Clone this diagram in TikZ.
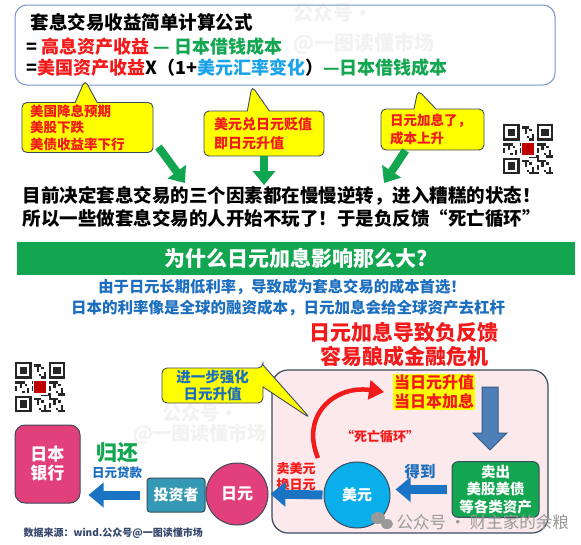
\documentclass[tikz,border=0pt]{standalone}
\usepackage{fontspec}
\setmainfont{Noto Sans CJK SC}
\usepackage{xcolor}
\usepackage{tikz}
\usetikzlibrary{arrows.meta, shapes.callouts, positioning}

\definecolor{hlred}{HTML}{F21A1A}
\definecolor{hlgreen}{HTML}{12A650}
\definecolor{hlcyan}{HTML}{1AA3E8}
\definecolor{txtblue}{HTML}{1C6EBF}
\definecolor{boxyellow}{HTML}{FFFF00}
\definecolor{boxblue}{HTML}{7B95C9}
\definecolor{jpred}{HTML}{E2407A}
\definecolor{usdcyan}{HTML}{0AAEEA}
\definecolor{invteal}{HTML}{3598B4}
\definecolor{pinkbg}{HTML}{FCE9EC}
\definecolor{arrblue}{HTML}{1B73C3}
\definecolor{steel}{HTML}{4F7FB8}
\definecolor{edge}{HTML}{3D4A5C}
\definecolor{srcblue}{HTML}{34466B}

\newcommand{\fsz}[2]{\fontsize{#1}{#2}\selectfont\bfseries}

\begin{document}
\begin{tikzpicture}[x=1pt,y=-1pt,
  callbox/.style={rectangle callout, draw=edge, fill=boxyellow, line width=0.9pt,
    rounded corners=5pt, callout pointer width=22pt, text=hlred, align=left,
    inner xsep=8pt, inner ysep=2pt},
  greenarr/.style={draw=hlgreen, line width=8pt, -{Triangle[width=22pt,length=14pt]}},
  flowarr/.style={draw=arrblue, line width=9pt, -{Triangle[width=24pt,length=15pt]}},
  tilebox/.style={draw=edge, line width=1pt, text=white}]

  \useasboundingbox (0,0) rectangle (581,544);
  \fill[white] (0,0) rectangle (581,544);

  % --- WATERMARKS ---
  \node (wmtop) [font=\fsz{20}{30}, text=black!5, align=left, anchor=north west] at (290,0) {公众号·\\@一图读懂市场};
  \node (wmbot) [font=\fsz{19}{20}, text=black!5, align=center] at (200,424) {公众号·\\@一图读懂市场};

  % --- QR CODES ---
  \foreach \qx/\qy in {503/124, 15/362} {
    \foreach \i in {0,...,20} { \foreach \j in {0,...,20} {
      \pgfmathtruncatemacro\qv{mod(\i*\i*3+\j*7+\i*\j*5+\j*\j,7)}
      \ifnum\qv<3 \fill[black!85] (\qx+\i*2.4,\qy+\j*2.4) rectangle ++(2.4,2.4); \fi
    } }
    \foreach \fx/\fy in {0/0, 13/0, 0/13} {
      \fill[white] (\qx+\fx*2.4,\qy+\fy*2.4) rectangle ++(19.2,19.2);
      \fill[black!85] (\qx+\fx*2.4+\fx/13*2.4,\qy+\fy*2.4+\fy/13*2.4) rectangle ++(16.8,16.8);
      \fill[white] (\qx+\fx*2.4+\fx/13*2.4+2.4,\qy+\fy*2.4+\fy/13*2.4+2.4) rectangle ++(12,12);
      \fill[black!85] (\qx+\fx*2.4+\fx/13*2.4+4.8,\qy+\fy*2.4+\fy/13*2.4+4.8) rectangle ++(7.2,7.2);
    }
    \fill[white] (\qx+17.6,\qy+17.6) rectangle ++(15.2,15.2);
    \fill[red!75!black] (\qx+19.2,\qy+19.2) rectangle ++(12,12);
  }

  % --- FORMULA BOX ---
  \node (formbox) [draw=boxblue, line width=1pt, rounded corners=12pt, minimum width=540pt, minimum height=80pt] at (285,45) {};
  \node (ftitle) [font=\fsz{18.5}{22}, anchor=west] at (27,22) {套息交易收益简单计算公式};
  \node (fline1) [font=\fsz{18}{22}, anchor=west] at (23,47)
    {= \textcolor{hlred}{高息资产收益} \textcolor{hlgreen}{— 日本借钱成本}};
  \node (fline2) [font=\fsz{18}{22}, anchor=west] at (23,68)
    {=\textcolor{hlred}{美国资产收益}X（1+\textcolor{hlcyan}{美元汇率变化}）\textcolor{hlgreen}{—日本借钱成本}};

  % --- THREE FACTORS ---
  \coordinate (g1) at (185,183);
  \coordinate (g2) at (264,185);
  \coordinate (g3) at (384,183);
  \node (cb1) [callbox, text width=115pt, minimum height=49pt, font=\fsz{13.5}{16.5},
    callout absolute pointer={(85,80)}] at (87.5,127.5) {美国降息预期\\美股下跌\\美债收益率下行};
  \node (cb2) [callbox, text width=100pt, inner xsep=10pt, minimum height=45pt, font=\fsz{14}{19},
    callout absolute pointer={(252,86)}] at (264,133.5) {美元兑日元贬值\\即日元升值};
  \node (cb3) [callbox, text width=85pt, inner xsep=9pt, minimum height=41pt, font=\fsz{13.5}{18},
    callout absolute pointer={(418,90)}] at (432.5,129.5) {日元加息了，\\成本上升};
  \draw[greenarr] ([xshift=5pt,yshift=6pt]cb1.south east) -- (g1);
  \draw[greenarr] (cb2.south) -- (g2);
  \draw[greenarr] ([xshift=-27pt]cb3.south) -- (g3);

  \node (why1) [font=\fsz{18.5}{22}, anchor=west] at (19,196) {目前决定套息交易的三个因素都在慢慢逆转，进入糟糕的状态！};
  \node (why2) [font=\fsz{18.5}{22}, anchor=west] at (19,219) {所以一些做套息交易的人开始不玩了！于是负反馈“死亡循环”};

  % --- WHY SO BIG ---
  \node (banner) [fill=hlgreen, minimum width=558pt, minimum height=33pt, text=white, font=\fsz{21}{24}] at (296,258.5) {为什么日元加息影响那么大?};
  \node (reason1) [font=\fsz{15.3}{18}, text=txtblue] at (282,287) {由于日元长期低利率，导致成为套息交易的成本首选！};
  \node (reason2) [font=\fsz{15.5}{18}, text=txtblue] at (288,308) {日本的利率像是全球的融资成本，日元加息会给全球资产去杠杆};
  \node (crisis) [font=\fsz{21}{24}, text=hlred, align=center] at (404,345) {日元加息导致负反馈\\容易酿成金融危机};

  % --- DEATH LOOP ---
  \node (loopbg) [draw=edge, fill=pinkbg, line width=1.2pt, rounded corners=16pt, minimum width=276pt, minimum height=163pt] at (410,451.5) {};
  \node (trigger) [fill=boxyellow, text=hlred, align=center, inner sep=1pt, font=\fsz{16}{19}] at (434,392) {当日元升值\\当日本加息};
  \coordinate (dtop) at (490,387);
  \draw[draw=steel!70!black, fill=steel, line width=1pt] (dtop) ++(-8,0) -- ++(16,0) -- ++(0,46) -- ++(9,0) -- ++(-17,17) -- ++(-17,-17) -- ++(9,0) -- cycle;
  \node (sellbox) [tilebox, fill=hlgreen, rounded corners=6pt, minimum width=87pt, minimum height=55pt, align=center, font=\fsz{14.5}{17.5}] at (495.5,489.5) {卖出\\美股美债\\等各类资产};
  \node (gain) [font=\fsz{15.5}{18}, text=txtblue] at (420,472) {得到};
  \node (usd) [tilebox, circle, fill=usdcyan, minimum size=66pt, font=\fsz{15}{18}] at (357,495) {美元};
  \node (sellusd) [font=\fsz{13}{16}, text=hlred, align=center] at (296,477) {卖美元\\换日元};
  \coordinate (loopstart) at (318,458);
  \coordinate (loopend) at (384,392);
  \draw[draw=hlred, line width=4.5pt, -{Triangle[width=19pt,length=15pt]}] (loopstart) .. controls (300,415) and (335,385) .. (loopend);
  \node (deathloop) [font=\fsz{13}{16}, text=hlred] at (380,437) {“死亡循环”};
  \node (cb4) [callbox, text=txtblue, align=center, minimum width=101pt, minimum height=35pt, font=\fsz{14.5}{17},
    callout absolute pointer={(310,418)}] at (212.5,385.5) {进一步强化\\日元升值};

  % --- REPAY CHAIN ---
  \node (jpy) [tilebox, circle, fill=jpred, minimum size=62pt, font=\fsz{16}{18}] at (237,494) {日元};
  \node (investor) [tilebox, fill=invteal, rounded corners=3pt, minimum width=58pt, minimum height=34pt, font=\fsz{15}{18}] at (176,495) {投资者};
  \node (boj) [tilebox, fill=jpred, rounded corners=10pt, minimum width=65pt, minimum height=78pt, align=center, font=\fsz{17}{19}] at (47.5,464) {日本\\银行};
  \draw[flowarr, shorten <=5pt, shorten >=5pt] (sellbox.west) -- (sellbox.west -| usd.east);
  \draw[flowarr, shorten <=1pt, shorten >=2pt] (usd.west) -- (jpy.east);
  \draw[flowarr, shorten <=7pt, shorten >=8pt] (investor.west) -- (investor.west -| boj.east);
  \node (repay) [font=\fsz{21}{24}, text=hlgreen] at (117,453) {归还};
  \node (loan) [font=\fsz{12.5}{15}, text=txtblue] at (117,473) {日元贷款};

  % --- FOOTER ---
  \node (source) [font=\fsz{10}{12}, text=srcblue, anchor=west] at (20,533) {数据来源：wind.公众号@一图读懂市场};
  \fill[black!40] (378,518) ellipse (7 and 6);
  \fill[black!40] (387,524) ellipse (6 and 5);
  \node (wmwx) [font=\fontsize{16.5}{18}\selectfont, text=black!40, anchor=west] at (393,522) {公众号 · 财主家的余粮};
\end{tikzpicture}
\end{document}
